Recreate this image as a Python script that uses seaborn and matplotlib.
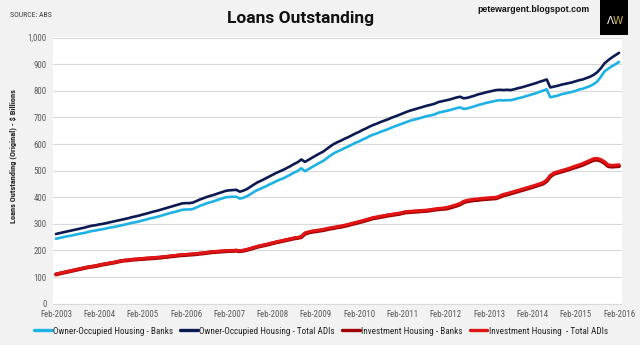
import matplotlib
matplotlib.use("Agg")
import matplotlib.pyplot as plt
import matplotlib.dates as mdates
from matplotlib.ticker import FuncFormatter
from matplotlib.lines import Line2D
from matplotlib.patches import Rectangle
import numpy as np
import pandas as pd
import seaborn as sns

# Monthly loans outstanding, $ billions, Feb-2003 .. Feb-2016
START_MONTH = "2003-02-01"

oo_banks = [
    244, 247, 250, 253, 255, 258, 261, 264, 266, 270, 273, 275,
    278, 280, 283, 286, 288, 291, 294, 297, 300, 304, 306, 309,
    313, 316, 320, 323, 326, 330, 334, 338, 342, 345, 349, 353,
    354, 354, 356, 362, 368, 373, 378, 382, 386, 391, 395, 400,
    401, 402, 402, 395, 398, 404, 412, 421, 428, 434, 440, 447,
    453, 460, 466, 471, 478, 485, 493, 499, 509, 498, 506, 514,
    522, 529, 536, 546, 556, 565, 572, 578, 585, 591, 598, 605,
    610, 617, 623, 630, 636, 640, 646, 651, 656, 662, 667, 672,
    677, 682, 687, 691, 694, 698, 702, 706, 708, 712, 718, 721,
    724, 727, 731, 735, 738, 732, 734, 738, 742, 747, 750, 754,
    757, 760, 763, 765, 764, 765, 765, 768, 772, 775, 779, 783,
    787, 791, 796, 801, 806, 776, 779, 782, 787, 790, 793, 796,
    800, 805, 808, 813, 818, 825, 835, 853, 873, 883, 892, 900,
    909,
]

oo_total = [
    262, 265, 268, 271, 274, 277, 280, 283, 286, 290, 293, 295,
    298, 300, 303, 306, 309, 312, 315, 318, 321, 325, 328, 331,
    335, 338, 342, 346, 349, 353, 357, 361, 365, 369, 373, 377,
    378, 378, 380, 386, 392, 397, 402, 406, 410, 415, 419, 424,
    426, 427, 428, 421, 425, 431, 440, 449, 457, 463, 470, 477,
    484, 491, 497, 503, 510, 517, 525, 532, 542, 533, 541, 549,
    557, 564, 571, 581, 591, 600, 607, 613, 620, 626, 633, 640,
    646, 653, 659, 666, 672, 677, 683, 688, 693, 699, 704, 709,
    715, 720, 725, 729, 733, 737, 741, 745, 748, 752, 758, 761,
    764, 767, 771, 775, 778, 772, 774, 778, 782, 787, 790, 794,
    797, 800, 803, 804, 803, 804, 803, 806, 810, 813, 817, 821,
    825, 829, 834, 838, 843, 813, 816, 819, 823, 826, 829, 832,
    836, 840, 843, 848, 853, 860, 870, 885, 903, 915, 925, 934,
    943,
]

inv_banks = [
    110, 113, 116, 119, 122, 125, 128, 131, 134, 137, 139, 141,
    144, 147, 149, 152, 154, 157, 160, 162, 163, 165, 166, 167,
    168, 169, 170, 171, 172, 173, 175, 176, 178, 179, 181, 182,
    183, 184, 185, 186, 188, 189, 191, 193, 194, 195, 196, 197,
    198, 198, 199, 197, 199, 202, 206, 210, 214, 217, 220, 223,
    227, 230, 233, 236, 239, 242, 245, 247, 250, 263, 267, 270,
    272, 274, 276, 279, 282, 284, 287, 289, 292, 295, 299, 302,
    306, 309, 313, 317, 321, 323, 326, 328, 331, 333, 335, 337,
    340, 343, 344, 345, 346, 347, 348, 349, 351, 353, 355, 356,
    357, 360, 364, 368, 373, 381, 385, 387, 389, 390, 392, 393,
    394, 395, 396, 401, 407, 410, 414, 418, 422, 426, 430, 434,
    438, 442, 446, 451, 461, 478, 488, 492, 496, 500, 504, 509,
    513, 517, 522, 528, 534, 540, 541, 537, 529, 517, 515, 516,
    517,
]

inv_total = [
    111, 114, 117, 120, 123, 126, 129, 132, 135, 138, 140, 142,
    145, 148, 150, 153, 155, 158, 161, 163, 164, 166, 167, 168,
    170, 171, 172, 173, 174, 175, 177, 178, 180, 181, 183, 184,
    185, 186, 187, 188, 190, 191, 193, 195, 196, 197, 198, 199,
    200, 200, 201, 199, 201, 204, 208, 212, 216, 219, 222, 225,
    229, 232, 235, 238, 241, 244, 247, 249, 252, 266, 270, 273,
    275, 277, 279, 282, 285, 287, 290, 292, 295, 298, 302, 305,
    309, 312, 316, 320, 324, 326, 329, 331, 334, 336, 338, 340,
    343, 346, 347, 348, 349, 350, 351, 352, 354, 356, 358, 359,
    361, 364, 368, 372, 377, 385, 389, 391, 393, 394, 396, 397,
    398, 399, 400, 405, 411, 414, 418, 422, 426, 430, 434, 438,
    442, 446, 450, 455, 465, 482, 492, 496, 500, 504, 508, 513,
    518, 522, 527, 533, 539, 545, 546, 542, 534, 522, 520, 521,
    522,
]

series_names = [
    "Owner-Occupied Housing - Banks",
    "Owner-Occupied Housing - Total ADIs",
    "Investment Housing - Banks",
    "Investment Housing  - Total ADIs",
]
series_values = [oo_banks, oo_total, inv_banks, inv_total]
series_colors = ["#1DB2E6", "#0B1A52", "#A00000", "#E01414"]
series_widths = [1.9, 1.9, 2.8, 2.2]

y_ticks = [0, 100, 200, 300, 400, 500, 600, 700, 800, 900, 1000]

dates = pd.date_range(START_MONTH, periods=len(oo_total), freq="MS")
frames = []
for name, vals in zip(series_names, series_values):
    frames.append(pd.DataFrame({"Month": dates, "Value": vals, "Series": name}))
data = pd.concat(frames, ignore_index=True)

sns.set_style("white")
NARROW = ["Liberation Sans Narrow", "Roboto Condensed", "Liberation Sans"]
plt.rcParams["font.family"] = NARROW

fig = plt.figure(figsize=(6.4, 3.45), dpi=100)
fig.patch.set_facecolor("#F2F2F2")
ax = fig.add_axes([53 / 640, 40 / 345, 569 / 640, 268 / 345])
ax.set_facecolor("white")

for name, color, lw in zip(series_names, series_colors, series_widths):
    sns.lineplot(
        data=data[data["Series"] == name], x="Month", y="Value",
        color=color, linewidth=lw, ax=ax, legend=False, zorder=3,
    )

ax.set_ylim(-5, 1002.5)
ax.set_xlim(pd.Timestamp("2003-01-07"), pd.Timestamp("2016-02-26"))
ax.set_yticks(y_ticks)
ax.yaxis.set_major_formatter(FuncFormatter(lambda v, p: f"{int(v):,}"))
ax.set_xticks(pd.date_range("2003-02-01", "2016-02-01", freq="12MS"))
ax.xaxis.set_major_formatter(mdates.DateFormatter("%b-%Y"))
ax.grid(axis="y", color="#D9D9D9", linewidth=0.8, zorder=0)
ax.grid(axis="x", visible=False)
for s in ax.spines.values():
    s.set_visible(False)
ax.tick_params(axis="both", length=0, labelsize=6.3, labelcolor="#595959")
ax.tick_params(axis="y", pad=4.5)
ax.tick_params(axis="x", pad=3.5)
ax.set_xlabel("")
ax.set_ylabel("")

fig.text(13 / 640, 1 - 156 / 345, "Loans Outstanding (Original) - $ Billions",
         rotation=90, ha="center", va="center", fontsize=6.0,
         fontweight="bold", color="#222222")

fig.text(301 / 640, 1 - 19 / 345, "Loans Outstanding", ha="center", va="center",
         fontsize=12.5, fontweight="bold", color="#111111",
         family=["Roboto", "Liberation Sans", "DejaVu Sans"])
fig.text(10 / 640, 1 - 15 / 345, "SOURCE: ABS", ha="left", va="center",
         fontsize=5.6, color="#404040")
fig.text(533 / 640, 1 - 9 / 345, "petewargent.blogspot.com", ha="center",
         va="center", fontsize=6.3, fontweight="bold", color="#111111",
         family=["Liberation Sans", "DejaVu Sans"])

fig.patches.append(Rectangle((600 / 640, 1 - 35 / 345), 28 / 640, 35 / 345,
                             transform=fig.transFigure, facecolor="black",
                             edgecolor="none", zorder=1))
fig.text(610 / 640, 1 - 21 / 345, "Λ", ha="center", va="center", fontsize=7.5,
         color="white", family=["DejaVu Sans"], zorder=2)
fig.text(618 / 640, 1 - 21 / 345, "W", ha="center", va="center", fontsize=7.5,
         color="#C8B45A", family=["DejaVu Sans"], zorder=2)

handles = [Line2D([], [], color=c, linewidth=2.4) for c in series_colors]
fig.legend(handles, series_names, loc="center", ncol=4,
           bbox_to_anchor=(321 / 640, 1 - 331 / 345), frameon=False,
           fontsize=6.6, handlelength=1.9, handletextpad=0.15,
           columnspacing=0.8, labelcolor="#222222")

fig.savefig("out.png", dpi=100, facecolor=fig.get_facecolor())
